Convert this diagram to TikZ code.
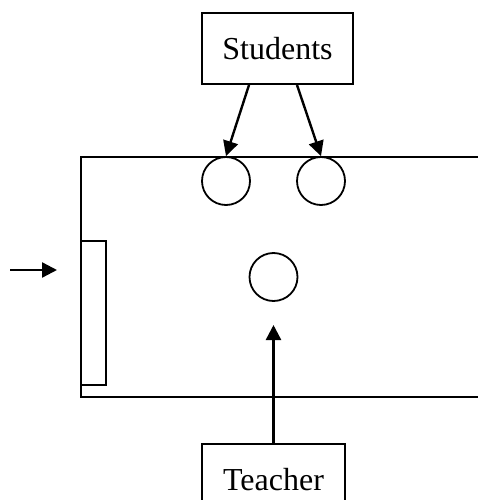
\documentclass[tikz,border=0pt]{standalone}
\usepackage{fontspec}
\setmainfont{Liberation Serif}
\usetikzlibrary{arrows.meta,calc}
\begin{document}
\begin{tikzpicture}[x=1pt,y=-1pt,
  line width=2pt,
  labelbox/.style={draw,rectangle,minimum height=71pt,
    inner sep=0pt,font=\fontsize{32}{36}\selectfont},
  seat/.style={draw,circle,minimum size=48pt,inner sep=0pt,line width=1.8pt},
  pointer/.style={line width=2.4pt,-{Triangle[length=15pt,width=15pt]}}]
  \useasboundingbox (0,0) rectangle (478,500);
  \clip (0,0) rectangle (478,500);

  % room walls, open on the right
  \draw (478,157) -- (81,157) -- (81,397) -- (478,397);
  % door on the left wall
  \draw[line width=1.6pt] (81,241) rectangle (106,385);

  % seats
  \node[seat] (s1) at (226,181) {};
  \node[seat] (s2) at (321,181) {};
  \node[seat] (t1) at (273.5,277) {};

  % labels
  \node[labelbox,minimum width=151pt] (stud) at (277.5,48.5) {Students};
  \node[labelbox,minimum width=143pt] (teach) at (273.5,479.5) {Teacher};

  % connectors
  \draw[pointer] ($(stud.south)+(-28.5,0)$) -- (s1.north);
  \draw[pointer] ($(stud.south)+(19.5,0)$) -- (s2.north);
  \coordinate (tfront) at (273.5,325);
  \draw[pointer] (teach.north) -- (tfront);
  \coordinate (ein) at (10,270);
  \coordinate (eout) at (57,270);
  \draw[pointer] (ein) -- (eout);
\end{tikzpicture}
\end{document}
